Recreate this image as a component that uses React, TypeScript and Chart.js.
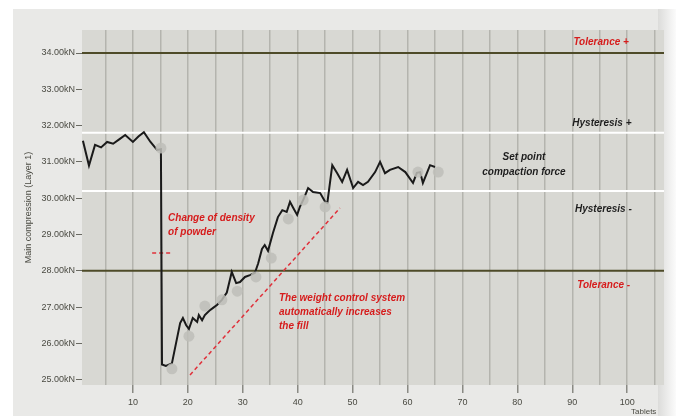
import React, { useEffect, useRef } from "react";
import { Chart, registerables } from "chart.js";

Chart.register(...registerables);

// main compression force trace (tablet number, kN)
const forceX = [0.9, 2.0, 3.1, 4.2, 5.3, 6.4, 7.5, 8.6, 10.0, 11.0, 12.0, 13.2, 14.4, 15.1, 15.3, 16.0, 17.1, 18.6, 19.1, 19.7, 20.2, 20.9, 21.7, 22.0, 22.6, 23.1, 23.9, 24.6, 25.3, 26.2, 27.1, 28.0, 28.8, 29.5, 30.4, 31.3, 32.2, 32.8, 33.5, 34.0, 34.6, 35.5, 36.4, 37.2, 38.0, 38.6, 39.2, 39.9, 40.4, 41.0, 41.9, 42.8, 44.1, 45.0, 45.4, 46.3, 47.2, 48.1, 49.0, 50.1, 51.0, 51.9, 52.8, 54.1, 55.0, 55.9, 56.8, 58.3, 59.6, 61.0, 61.7, 62.3, 62.8, 64.1, 65.0];
const forceY = [31.58, 30.9, 31.47, 31.4, 31.55, 31.5, 31.62, 31.74, 31.55, 31.7, 31.82, 31.55, 31.33, 31.35, 25.42, 25.38, 25.45, 26.56, 26.7, 26.5, 26.4, 26.7, 26.59, 26.78, 26.64, 26.78, 26.9, 26.98, 27.06, 27.2, 27.4, 27.97, 27.66, 27.69, 27.83, 27.88, 27.94, 28.2, 28.6, 28.71, 28.55, 29.04, 29.48, 29.67, 29.62, 29.9, 29.73, 29.54, 29.76, 29.95, 30.28, 30.17, 30.14, 29.9, 29.87, 30.91, 30.69, 30.45, 30.78, 30.28, 30.45, 30.36, 30.45, 30.72, 31.0, 30.69, 30.78, 30.86, 30.72, 30.42, 30.7, 30.72, 30.42, 30.91, 30.86];

// sampled control points (grey dots)
const sampleX = [15.1, 17.1, 20.2, 23.1, 26.2, 29.0, 32.4, 35.2, 38.3, 41.0, 45.0, 61.9, 65.6];
const sampleY = [31.38, 25.3, 26.2, 27.03, 27.2, 27.44, 27.83, 28.35, 29.43, 29.95, 29.76, 30.72, 30.72];

// reference levels (kN)
const toleranceLevels = [34.0, 28.0];
const hysteresisLevels = [31.8, 30.2];

// red dashed marks
const densityMarkX = [13.5, 17.1];
const densityMarkY = [28.49, 28.49];
const fillTrendX = [20.4, 47.7];
const fillTrendY = [25.13, 29.73];

// axes
const yTickValues = [25, 26, 27, 28, 29, 30, 31, 32, 33, 34];
const xTickValues = [5, 10, 15, 20, 25, 30, 35, 40, 45, 50, 55, 60, 65, 70, 75, 80, 85, 90, 95, 100, 105];
const xRange = [0.73, 106.7];
const yRange = [24.854, 34.634];
const yAxisTitle = "Main compression (Layer 1)";
const xAxisTitle = "Tablets";

// annotation texts (anchor in data units)
const noteTexts = ["Tolerance +", "Hysteresis +", "Set point", "compaction force", "Hysteresis -", "Tolerance -", "Change of density", "of powder", "The weight control system", "automatically increases", "the fill"];
const noteX = [90.2, 90.0, 81.2, 81.2, 90.5, 90.9, 16.4, 16.4, 36.6, 36.6, 36.6];
const noteY = [34.3, 32.07, 31.13, 30.72, 29.7, 27.61, 29.45, 29.07, 27.25, 26.86, 26.48];
const noteRed = [true, false, false, false, false, true, true, true, true, true, true];
const noteCenter = [false, false, true, true, false, false, false, false, false, false, false];

const pts = (xs: number[], ys: number[]) => xs.map((x, i) => ({ x, y: ys[i] }));
const hline = (v: number) => [{ x: xRange[0], y: v }, { x: xRange[1], y: v }];

export default function App() {
  const ref = useRef<HTMLCanvasElement>(null);
  useEffect(() => {
    if (!ref.current) return;
    const bgPlugin = {
      id: "bg",
      beforeDraw(chart: any) {
        const { ctx, chartArea: a } = chart;
        ctx.save();
        ctx.fillStyle = "#ffffff";
        ctx.fillRect(0, 0, chart.width, chart.height);
        ctx.fillStyle = "#e9e9e7";
        ctx.fillRect(13, 9, 649, 407);
        const g = ctx.createLinearGradient(658, 0, 676, 0);
        g.addColorStop(0, "#dcdcda");
        g.addColorStop(1, "#fbfbfb");
        ctx.fillStyle = g;
        ctx.fillRect(658, 9, 18, 407);
        ctx.fillStyle = "#d8d8d3";
        ctx.fillRect(a.left, a.top, a.right - a.left, a.bottom - a.top);
        ctx.restore();
      },
      afterDatasetsDraw(chart: any) {
        const { ctx, scales } = chart;
        const xs = scales.x, ys = scales.y;
        ctx.save();
        ctx.font = "italic bold 10px 'Liberation Sans', Arial, sans-serif";
        ctx.textBaseline = "middle";
        noteTexts.forEach((t, i) => {
          ctx.fillStyle = noteRed[i] ? "#d61c1c" : "#1e1e1e";
          ctx.textAlign = noteCenter[i] ? "center" : "left";
          ctx.fillText(t, xs.getPixelForValue(noteX[i]), ys.getPixelForValue(noteY[i]));
        });
        ctx.font = "8px 'Liberation Sans', Arial, sans-serif";
        ctx.fillStyle = "#4a4a42";
        ctx.textAlign = "center";
        ctx.fillText(xAxisTitle, xs.getPixelForValue(103), chart.height - 4);
        ctx.restore();
      },
    };

    const chart = new Chart(ref.current, {
      type: "line",
      data: {
        datasets: [
          {
            label: "samples",
            data: pts(sampleX, sampleY),
            showLine: false,
            pointRadius: 5.5,
            pointBackgroundColor: "rgba(190,190,185,0.85)",
            pointBorderWidth: 0,
            borderColor: "rgba(190,190,185,0.85)",
            order: 0,
          },
          {
            label: "force",
            data: pts(forceX, forceY),
            borderColor: "#1a1a1a",
            borderWidth: 2,
            pointRadius: 0,
            tension: 0,
            order: 1,
          },
          {
            label: "density",
            data: pts(densityMarkX, densityMarkY),
            borderColor: "#e0303a",
            borderWidth: 1.5,
            borderDash: [4, 3],
            pointRadius: 0,
            order: 2,
          },
          {
            label: "trend",
            data: pts(fillTrendX, fillTrendY),
            borderColor: "#e0303a",
            borderWidth: 1.5,
            borderDash: [4, 3],
            pointRadius: 0,
            order: 2,
          },
          ...toleranceLevels.map((v) => ({
            label: "tol",
            data: hline(v),
            borderColor: "#4e4b28",
            borderWidth: 2,
            pointRadius: 0,
            order: 3,
          })),
          ...hysteresisLevels.map((v) => ({
            label: "hys",
            data: hline(v),
            borderColor: "#ffffff",
            borderWidth: 2,
            pointRadius: 0,
            order: 3,
          })),
        ],
      },
      options: {
        responsive: false,
        animation: false,
        events: [],
        layout: { padding: { left: 19, top: 30, right: 12, bottom: 0 } },
        plugins: { legend: { display: false }, tooltip: { enabled: false } },
        scales: {
          x: {
            type: "linear",
            min: xRange[0],
            max: xRange[1],
            afterBuildTicks: (s: any) => {
              s.ticks = xTickValues.map((v) => ({ value: v }));
            },
            afterFit: (s: any) => {
              s.height = 31;
            },
            border: { display: false },
            grid: {
              color: "#b4b4ae",
              lineWidth: 1.5,
              tickLength: 8,
              tickColor: (c: any) => (c.tick && c.tick.value % 10 === 0 ? "#8a8a84" : "transparent"),
            },
            ticks: {
              autoSkip: false,
              maxRotation: 0,
              padding: 4,
              color: "#4a4a42",
              font: { size: 9, family: "'Liberation Sans', Arial, sans-serif" },
              callback: (v: any) => (Number(v) % 10 === 0 ? String(v) : ""),
            },
          },
          y: {
            type: "linear",
            min: yRange[0],
            max: yRange[1],
            afterBuildTicks: (s: any) => {
              s.ticks = yTickValues.map((v) => ({ value: v }));
            },
            afterFit: (s: any) => {
              s.width = 63;
            },
            border: { display: false },
            grid: {
              drawOnChartArea: false,
              tickLength: 6,
              tickColor: "#6a6a62",
              lineWidth: 1,
            },
            ticks: {
              padding: 1,
              color: "#4a4a42",
              font: { size: 9, family: "'Liberation Sans', Arial, sans-serif" },
              callback: (v: any) => Number(v).toFixed(2) + "kN",
            },
            title: {
              display: true,
              text: yAxisTitle,
              color: "#4a4a42",
              padding: { top: 4, bottom: 0 },
              font: { size: 9, family: "'Liberation Sans', Arial, sans-serif" },
            },
          },
        },
      },
      plugins: [bgPlugin],
    } as any);
    return () => chart.destroy();
  }, []);

  return (
    <div style={{ position: "fixed", left: 0, top: 0, width: 676, height: 416 }}>
      <canvas ref={ref} width={676} height={416} style={{ width: 676, height: 416, display: "block" }} />
    </div>
  );
}
